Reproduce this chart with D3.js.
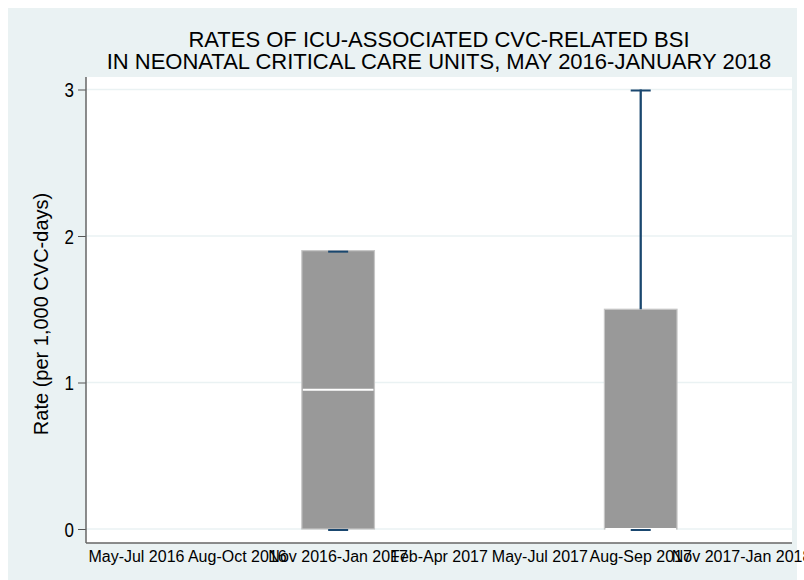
<!DOCTYPE html>
<html>
<head>
<meta charset="utf-8">
<script src="https://cdn.jsdelivr.net/npm/d3@7"></script>
<style>
  body { margin: 0; background: #fff; }
  text { font-family: "Liberation Sans", Arial, sans-serif; fill: #000; }
</style>
</head>
<body>
<svg id="chart" width="804" height="580"></svg>
<script>
// categories (periods) and box statistics
const categories = ["May-Jul 2016", "Aug-Oct 2016", "Nov 2016-Jan 2017", "Feb-Apr 2017",
    "May-Jul 2017", "Aug-Sep 2017", "Nov 2017-Jan 2018"];
const boxMin    = [null, null, 0,    null, null, 0,   null];
const boxQ1     = [null, null, 0,    null, null, 0,   null];
const boxMedian = [null, null, 0.95, null, null, 0,   null];
const boxQ3     = [null, null, 1.9,  null, null, 1.5, null];
const boxMax    = [null, null, 1.9,  null, null, 3,   null];
const yTicks = [0, 1, 2, 3];
const titleLines = ["RATES OF ICU-ASSOCIATED CVC-RELATED BSI",
    "IN NEONATAL CRITICAL CARE UNITS, MAY 2016-JANUARY 2018"];
const yTitle = "Rate (per 1,000 CVC-days)";

const svg = d3.select("#chart");
const plot = { left: 86, right: 792, top: 77, bottom: 543 };

// outer graph region
svg.append("rect")
    .attr("x", 8).attr("y", 8)
    .attr("width", 789).attr("height", 580)
    .attr("fill", "#eaf2f3");

// plot region
svg.append("rect")
    .attr("x", plot.left).attr("y", plot.top)
    .attr("width", plot.right - plot.left).attr("height", plot.bottom - plot.top)
    .attr("fill", "#fff");

var x = d3.scaleBand()
    .domain(categories)
    .range([plot.left, plot.right])
    .padding(0);

var y = d3.scaleLinear()
    .domain([0, 3])
    .range([529, 89.5]);

// gridlines
svg.append("g")
    .selectAll("line")
    .data(yTicks)
    .enter()
    .append("line")
    .attr("x1", plot.left).attr("x2", plot.right)
    .attr("y1", d => y(d)).attr("y2", d => y(d))
    .attr("stroke", "#eaf2f3")
    .attr("stroke-width", 1.5);

const boxes = categories.map((c, i) => ({
    cat: c,
    min: boxMin[i], q1: boxQ1[i], med: boxMedian[i], q3: boxQ3[i], max: boxMax[i]
})).filter(d => d.q3 !== null);

const boxW = x.bandwidth() * 0.72;
const capW = 20;
const whiskerColor = "#1a476f";

var gBox = svg.append("g");

gBox.selectAll(".box")
    .data(boxes)
    .enter()
    .append("rect")
    .attr("class", "box")
    .attr("x", d => x(d.cat) + (x.bandwidth() - boxW) / 2)
    .attr("y", d => y(d.q3))
    .attr("width", boxW)
    .attr("height", d => y(d.q1) - y(d.q3))
    .attr("fill", "#999999")
    .attr("stroke", "#c6c6c6")
    .attr("stroke-width", 1.2);

gBox.selectAll(".median")
    .data(boxes)
    .enter()
    .append("line")
    .attr("class", "median")
    .attr("x1", d => x(d.cat) + (x.bandwidth() - boxW) / 2 + 1)
    .attr("x2", d => x(d.cat) + (x.bandwidth() + boxW) / 2 - 1)
    .attr("y1", d => y(d.med)).attr("y2", d => y(d.med))
    .attr("stroke", "#fff")
    .attr("stroke-width", 2);

// upper whiskers
gBox.selectAll(".whisk")
    .data(boxes.filter(d => d.max > d.q3))
    .enter()
    .append("line")
    .attr("x1", d => x(d.cat) + x.bandwidth() / 2)
    .attr("x2", d => x(d.cat) + x.bandwidth() / 2)
    .attr("y1", d => y(d.q3)).attr("y2", d => y(d.max))
    .attr("stroke", whiskerColor)
    .attr("stroke-width", 2.3);

// caps at min and max
const caps = [];
boxes.forEach(d => { caps.push({ cat: d.cat, v: d.max }); caps.push({ cat: d.cat, v: d.min }); });
gBox.selectAll(".cap")
    .data(caps)
    .enter()
    .append("line")
    .attr("x1", d => x(d.cat) + x.bandwidth() / 2 - capW / 2)
    .attr("x2", d => x(d.cat) + x.bandwidth() / 2 + capW / 2)
    .attr("y1", d => y(d.v) + 1).attr("y2", d => y(d.v) + 1)
    .attr("stroke", whiskerColor)
    .attr("stroke-width", 2);

// y axis
var yAxis = svg.append("g")
    .attr("transform", "translate(" + plot.left + ",0)")
    .call(d3.axisLeft(y).tickValues(yTicks).tickFormat(d3.format("d")).tickSize(8).tickPadding(4));
yAxis.select(".domain").remove();
yAxis.selectAll(".tick line").attr("stroke", "#555");
yAxis.selectAll(".tick text")
    .attr("font-size", 17)
    .attr("font-family", "Liberation Sans, Arial, sans-serif")
    .attr("fill", "#000")
    .attr("dy", null)
    .attr("transform", "translate(-12,7) scale(1,1.18)")
    .attr("x", 0);

svg.append("line")
    .attr("x1", plot.left).attr("x2", plot.left)
    .attr("y1", plot.top).attr("y2", plot.bottom)
    .attr("stroke", "#666").attr("stroke-width", 1.5);

// x axis
var xAxis = svg.append("g")
    .attr("transform", "translate(0," + plot.bottom + ")")
    .call(d3.axisBottom(x).tickSize(0).tickPadding(7));
xAxis.select(".domain").remove();
xAxis.selectAll(".tick text")
    .attr("font-size", 16)
    .attr("font-family", "Liberation Sans, Arial, sans-serif")
    .attr("fill", "#000")
    .attr("y", null).attr("dy", null)
    .attr("transform", "translate(0,19) scale(1,1.08)");

svg.append("line")
    .attr("x1", plot.left).attr("x2", plot.right)
    .attr("y1", plot.bottom).attr("y2", plot.bottom)
    .attr("stroke", "#666").attr("stroke-width", 1.5);

// y title
svg.append("text")
    .attr("transform", "translate(48," + ((plot.top + plot.bottom) / 2 + 4) + ") rotate(-90)")
    .attr("text-anchor", "middle")
    .attr("font-size", 20)
    .text(yTitle);

// title
svg.append("g")
    .selectAll("text")
    .data(titleLines)
    .enter()
    .append("text")
    .attr("x", (plot.left + plot.right) / 2)
    .attr("y", (d, i) => 47 + i * 22)
    .attr("text-anchor", "middle")
    .attr("font-size", 22)
    .text(d => d);
</script>
</body>
</html>
